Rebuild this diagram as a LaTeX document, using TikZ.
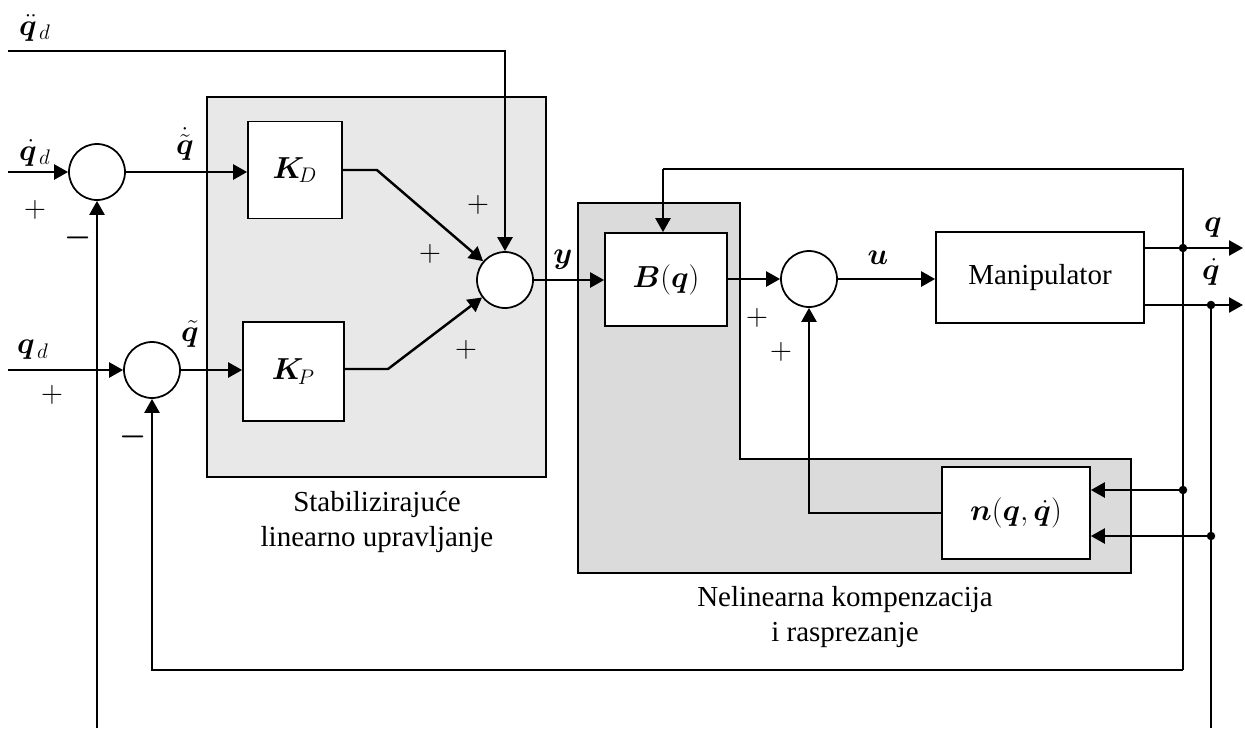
\documentclass[tikz,border=0pt]{standalone}
\usepackage{fontspec}
\setmainfont{Liberation Serif}
\usepackage{amsmath,bm}
\usetikzlibrary{arrows.meta,positioning}

\begin{document}
\begin{tikzpicture}[
  x=0.02cm, y=-0.02cm,
  font=\fontsize{16.5}{20}\selectfont,
  block/.style={rectangle, draw=black, fill=white, line width=1pt, inner sep=0pt},
  sumnode/.style={circle, draw=black, fill=white, line width=1pt, inner sep=0pt, minimum size=1.12cm},
  arr/.style={line width=1.4pt, -{Triangle[length=0.28cm, width=0.3cm]}},
  wire/.style={line width=1.4pt},
  junc/.style={circle, fill=black, inner sep=0pt, minimum size=0.17cm},
  zone/.style={draw=black, line width=1pt},
  lbl/.style={inner sep=1pt}
]
  \useasboundingbox (0,0) rectangle (1245,728);

  % Sivi okviri
  \draw[zone, fill=black!9] (207,97) rectangle (546,477);
  \draw[zone, fill=black!14] (578,203) -- (740,203) -- (740,459) -- (1131,459)
    -- (1131,573) -- (578,573) -- cycle;

  % Blokovi
  \node[block, minimum width=1.88cm, minimum height=1.94cm] (KD) at (295,170) {$\bm{K}_{\!D}$};
  \node[block, minimum width=2.02cm, minimum height=1.98cm] (KP) at (293.5,371.5) {$\bm{K}_{\!P}$};
  \node[block, minimum width=2.44cm, minimum height=1.86cm] (B) at (666,279.5) {$\bm{B}(\bm{q})$};
  \node[block, minimum width=4.16cm, minimum height=1.82cm] (man) at (1040,277.5) {Manipulator};
  \node[block, minimum width=2.96cm, minimum height=1.84cm] (nq) at (1016,513) {$\bm{n}(\bm{q},\dot{\bm{q}})$};

  % Sumatori
  \node[sumnode] (s1) at (97,172) {};
  \node[sumnode] (s3) at (152,370) {};
  \node[sumnode] (s2) at (505,280) {};
  \node[sumnode] (s4) at (809,279) {};

  % Ulazi, izlazi i cvorista
  \coordinate (inqdd) at (8,51);
  \coordinate (inqd) at (8,172);
  \coordinate (inq) at (8,370);
  \coordinate (outq) at (1243,248);
  \coordinate (outqd) at (1243,305);
  \coordinate (jq) at (1183,248);
  \coordinate (jqd) at (1211,305);
  \coordinate (jn1) at (1183,490);
  \coordinate (jn2) at (1211,536);
  \coordinate (fbtop) at (663,169);
  \coordinate (fbbot) at (1183,670);
  \coordinate (bot1) at (97,728);
  \coordinate (bot2) at (1211,728);

  % Veze
  \draw[arr] (inqdd) -| (s2.north);
  \draw[arr] (inqd) -- (s1.west);
  \draw[arr] (inq) -- (s3.west);
  \draw[arr] (s1.east) -- (s1.east -| KD.west);
  \draw[arr] (s3.east) -- (s3.east -| KP.west);
  \draw[arr] (KD.east) -- ++(34,0) -- (s2);
  \draw[arr] (KP.east |- 0,369) -- (388,369) -- (s2);
  \draw[arr] (s2.east) -- (s2.east -| B.west);
  \draw[arr] (B.east |- s4) -- (s4.west);
  \draw[arr] (s4.east) -- (s4.east -| man.west);
  \draw[arr] (man.east |- jq) -- (outq);
  \draw[arr] (man.east |- jqd) -- (outqd);
  \draw[arr] (nq.west) -| (s4.south);
  \draw[wire] (fbtop) -- (fbtop -| jq) -- (fbbot);
  \draw[arr] (fbtop) -- (fbtop |- B.north);
  \draw[arr] (fbbot) -| (s3.south);
  \draw[wire] (jqd) -- (bot2);
  \draw[arr] (bot1) -- (s1.south);
  \draw[arr] (jn1) -- (nq.east |- jn1);
  \draw[arr] (jn2) -- (nq.east |- jn2);
  \foreach \j in {jq,jqd,jn1,jn2}
    \node[junc] at (\j) {};

  % Oznake signala
  \node[lbl] (lqdd) at (35,28) {$\ddot{\bm{q}}_{\,d}$};
  \node[lbl] (lqd) at (35,153) {$\dot{\bm{q}}_{\,d}$};
  \node[lbl] (lq) at (33,350) {$\bm{q}_{\,d}$};
  \node[lbl] (le1) at (185,144) {$\dot{\tilde{\bm{q}}}$};
  \node[lbl] (le2) at (190,334) {$\tilde{\bm{q}}$};
  \node[lbl] (ly) at (563,260) {$\bm{y}$};
  \node[lbl] (lu) at (878,258) {$\bm{u}$};
  \node[lbl] (lqo) at (1213,228) {$\bm{q}$};
  \node[lbl] (lqdo) at (1211,272) {$\dot{\bm{q}}$};

  % Predznaci
  \foreach \px/\py [count=\i] in {35/210,52/395,478/205,430/254,466/350,757/318,781/352}
    \node[lbl] (plus\i) at (\px,\py) {$+$};
  \node[lbl] (minus1) at (78,238) {$\bm{-}$};
  \node[lbl] (minus2) at (133,437) {$\bm{-}$};

  % Natpisi podsustava
  \node[align=center] (tstab) at (377,522) {Stabilizirajuće\\linearno upravljanje};
  \node[align=center] (tnel) at (845,617) {Nelinearna kompenzacija\\i rasprezanje};
\end{tikzpicture}
\end{document}
